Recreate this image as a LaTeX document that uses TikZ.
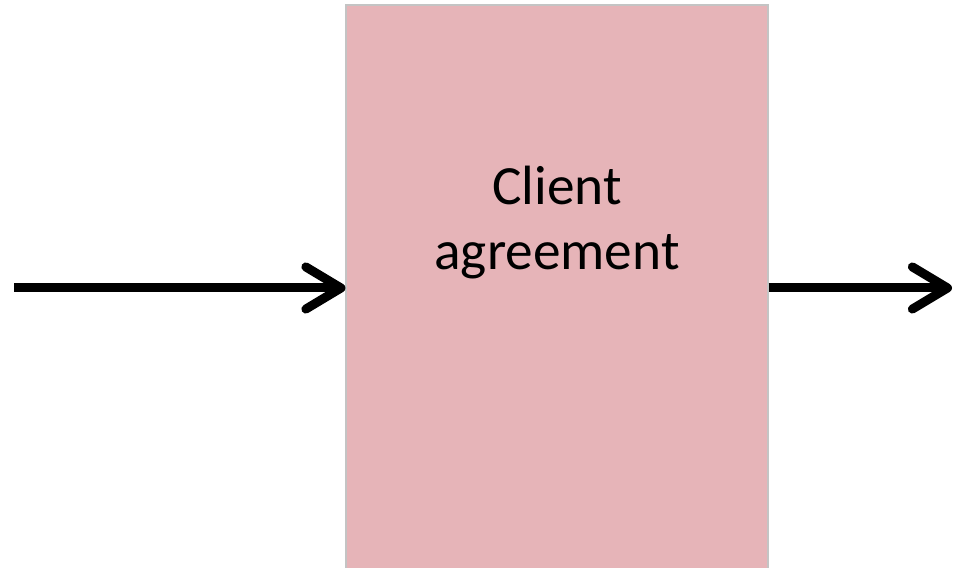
\documentclass[tikz,border=0pt]{standalone}
\usepackage{fontspec}
\setmainfont{Carlito}
\usepackage{tikz}
\usetikzlibrary{arrows.meta}
\definecolor{boxpink}{RGB}{230,180,184}
\definecolor{boxline}{RGB}{196,196,196}

\begin{document}
\begin{tikzpicture}[x=0.02cm, y=0.02cm,
    flow/.style={line width=0.18cm, -{Straight Barb[round, length=20pt, width=24pt]}}]
    \useasboundingbox (0, 0) rectangle (954, 568);
    \node (agreement) at (557, 280)[draw=boxline, fill=boxpink, line width=0.6pt,
      minimum width=422*0.02cm, minimum height=566*0.02cm, inner sep=0pt]{};
    \node (client) at (557, 345)[align=center, font=\fontsize{31.5}{37}\selectfont]{Client\\agreement};
    \coordinate (in) at (14, 280);
    \coordinate (out) at (952, 280);
    \draw[flow] (in)--(agreement.west);
    \draw[flow] (agreement.east)--(out);
  \end{tikzpicture}
\end{document}
